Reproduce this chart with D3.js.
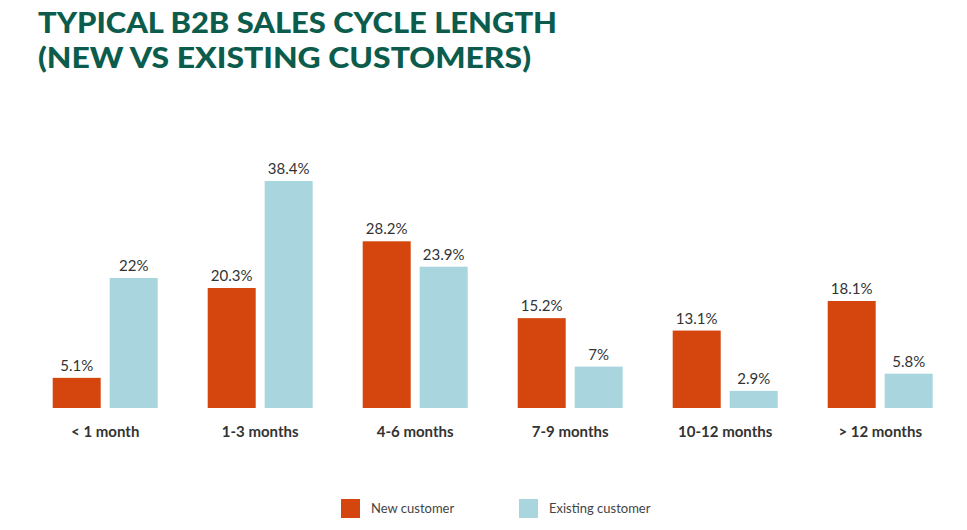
<!DOCTYPE html>
<html><head><meta charset="utf-8">
<script src="https://cdn.jsdelivr.net/npm/d3@7"></script>
<style>body{margin:0;background:#fff}svg{display:block}</style>
</head><body>
<svg id="c" width="967" height="530"></svg>
<script>
const categories = ["< 1 month","1-3 months","4-6 months","7-9 months","10-12 months","> 12 months"];
const seriesNames = ["New customer","Existing customer"];
const newCustomer = [5.1,20.3,28.2,15.2,13.1,18.1];
const existingCustomer = [22,38.4,23.9,7,2.9,5.8];
const valueLabels = [["5.1%","20.3%","28.2%","15.2%","13.1%","18.1%"],["22%","38.4%","23.9%","7%","2.9%","5.8%"]];
const colors = ["#d4460e","#a9d5de"];
const titleLines = ["TYPICAL B2B SALES CYCLE LENGTH","(NEW VS EXISTING CUSTOMERS)"];

const svg = d3.select("#c");
const series = [newCustomer, existingCustomer];

// Title
const tw = [519, 493];
svg.selectAll("text.title").data(titleLines).join("text")
  .attr("class","title")
  .attr("x",38).attr("y",(d,i)=>33+i*35)
  .attr("font-family","Lato").attr("font-weight",900).attr("font-size",29)
  .attr("fill","#0b5c4c")
  .attr("textLength",(d,i)=>tw[i]).attr("lengthAdjust","spacingAndGlyphs")
  .text(d=>d);

const x0 = d3.scaleBand().domain(categories).range([27.7,957.7]).paddingInner(50/155).paddingOuter(25/155);
const x1 = d3.scaleBand().domain(seriesNames).range([0,x0.bandwidth()]).paddingInner(2-105/57);
const y = d3.scaleLinear().domain([0,38.4]).range([408,181]);

const g = svg.selectAll("g.grp").data(categories).join("g")
  .attr("class","grp").attr("transform",d=>`translate(${x0(d)},0)`);

seriesNames.forEach((s,si)=>{
  g.append("rect")
    .attr("x",x1(s)).attr("width",x1.bandwidth())
    .attr("y",(d,i)=>y(series[si][i]))
    .attr("height",(d,i)=>y(0)-y(series[si][i]))
    .attr("fill",colors[si]);
  g.append("text")
    .attr("x",x1(s)+x1.bandwidth()/2)
    .attr("y",(d,i)=>y(series[si][i])-7)
    .attr("text-anchor","middle")
    .attr("font-family","Lato").attr("font-size",15).attr("fill","#333")
    .text((d,i)=>valueLabels[si][i]);
});

// category axis labels
const xAxis = d3.axisBottom(x0).tickSize(0).tickPadding(0);
const ax = svg.append("g").attr("transform","translate(0,425)").call(xAxis);
ax.select(".domain").remove();
ax.selectAll("text").attr("font-family","Lato").attr("font-weight",700)
  .attr("font-size",15).attr("fill","#333").attr("dy","0.8em");

// legend
const legX = [341,519];
const lg = svg.selectAll("g.leg").data(seriesNames).join("g").attr("class","leg")
  .attr("transform",(d,i)=>`translate(${legX[i]},499)`);
lg.append("rect").attr("width",19).attr("height",19).attr("fill",(d,i)=>colors[i]);
lg.append("text").attr("x",30).attr("y",14).attr("font-family","Lato")
  .attr("font-size",13).attr("fill","#444").text(d=>d);
</script>
</body></html>
